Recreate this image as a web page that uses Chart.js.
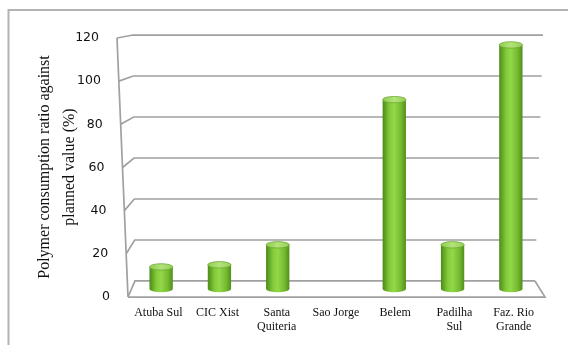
<!DOCTYPE html>
<html>
<head>
<meta charset="utf-8">
<script src="https://cdn.jsdelivr.net/npm/chart.js@4/dist/chart.umd.min.js"></script>
<style>
  html, body { margin: 0; padding: 0; background: #fff; }
</style>
</head>
<body>
<canvas id="myChart" width="568" height="345"></canvas>
<script>
// data
const categories = [['Atuba Sul'], ['CIC Xist'], ['Santa', 'Quiteria'], ['Sao Jorge'], ['Belem'], ['Padilha', 'Sul'], ['Faz. Rio', 'Grande']];
const ratioValues = [10.5, 11.5, 21, 0, 90, 21, 116];
const yTicks = [0, 20, 40, 60, 80, 100, 120];
const yTitle = ['Polymer consumption ratio against', 'planned value (%)'];

const GRID = '#a0a0a0';

////////////////////////////////////////////
// Project a value onto back / front plane //
////////////////////////////////////////////
const proj = (chart, v, plane) => {
    const a = chart.chartArea;
    const ym = chart.scales.y.getPixelForValue(v);
    const c = (a.top + a.bottom) / 2;
    const t = (ym - a.top) / (a.bottom - a.top);   // 0 at top, 1 at floor
    if (plane === 'back') {
        return {y: c + (ym - c) * 0.974 - 4.75, xl: a.left + 1 + 2 * t, xr: a.right + 3 - 8 * t};
    }
    return {y: c + (ym - c) * 1.026 + 4.75, xl: a.left - 15 + 11 * t, xr: a.right + 5};
};

const line = (ctx, pts) => {
    ctx.beginPath();
    ctx.moveTo(pts[0][0], pts[0][1]);
    for (let i = 1; i < pts.length; i++) ctx.lineTo(pts[i][0], pts[i][1]);
    ctx.stroke();
};

const frame3d = {
    id: 'frame3d',
    beforeDatasetsDraw(chart) {
        const ctx = chart.ctx;
        ctx.save();
        ctx.strokeStyle = GRID;
        ctx.lineWidth = 1.7;
        // gridlines: front-left edge -> back wall -> right
        yTicks.forEach((v) => {
            const f = proj(chart, v, 'front');
            const b = proj(chart, v, 'back');
            line(ctx, [[f.xl, f.y], [b.xl, b.y], [b.xr, b.y]]);
        });
        // left wall front edge
        const fTop = proj(chart, yTicks[yTicks.length - 1], 'front');
        const f0 = proj(chart, 0, 'front');
        const b0 = proj(chart, 0, 'back');
        line(ctx, [[fTop.xl, fTop.y], [f0.xl, f0.y]]);
        // floor front edge and right side
        line(ctx, [[f0.xl, f0.y], [f0.xr, f0.y], [b0.xr, b0.y]]);
        ctx.restore();
    }
};

const drawCylinder = (ctx, x, top, base, w) => {
    const rx = w / 2, ry = 3.2;
    const g = ctx.createLinearGradient(x - rx, 0, x + rx, 0);
    g.addColorStop(0, '#4b8a18');
    g.addColorStop(0.3, '#84cc3a');
    g.addColorStop(0.5, '#92d84a');
    g.addColorStop(0.8, '#74b82e');
    g.addColorStop(1, '#4f8e1c');
    ctx.fillStyle = g;
    ctx.beginPath();
    ctx.moveTo(x - rx, top);
    ctx.lineTo(x - rx, base);
    ctx.ellipse(x, base, rx, ry, 0, Math.PI, 0, true);
    ctx.lineTo(x + rx, top);
    ctx.closePath();
    ctx.fill();
    // top cap
    const gt = ctx.createLinearGradient(x - rx, 0, x + rx, 0);
    gt.addColorStop(0, '#8fcf4c');
    gt.addColorStop(0.5, '#b3e27a');
    gt.addColorStop(1, '#94d052');
    ctx.fillStyle = gt;
    ctx.beginPath();
    ctx.ellipse(x, top, rx, ry, 0, 0, Math.PI * 2);
    ctx.fill();
    ctx.strokeStyle = '#6ea83a';
    ctx.lineWidth = 0.8;
    ctx.stroke();
};

const cylinders = {
    id: 'cylinders',
    afterDatasetsDraw(chart) {
        const ctx = chart.ctx;
        const meta = chart.getDatasetMeta(0);
        ctx.save();
        meta.data.forEach((el, i) => {
            if (ratioValues[i] <= 0) return;
            const p = el.getProps(['x', 'y', 'base', 'width'], true);
            drawCylinder(ctx, p.x, p.y, p.base, p.width);
        });
        ctx.restore();
    }
};

const textLayer = {
    id: 'textLayer',
    afterDraw(chart) {
        const ctx = chart.ctx;
        const a = chart.chartArea;
        ctx.save();
        // outer border (top and left visible)
        ctx.strokeStyle = '#b4b4b4';
        ctx.lineWidth = 2;
        line(ctx, [[568, 10], [8.5, 10], [8.5, 345]]);

        // y tick labels
        ctx.fillStyle = '#111';
        ctx.font = '12.5px "DejaVu Sans"';
        ctx.textAlign = 'right';
        ctx.textBaseline = 'middle';
        yTicks.forEach((v) => {
            const f = proj(chart, v, 'front');
            ctx.fillText(String(v), f.xl - 18, f.y);
        });

        // category labels
        const f0 = proj(chart, 0, 'front');
        const cx = (a.left + a.right) / 2;
        ctx.font = '12px "Liberation Serif"';
        ctx.textAlign = 'center';
        categories.forEach((lab, i) => {
            const xm = chart.scales.x.getPixelForValue(i);
            const x = cx + (xm - cx) * 1.016;
            lab.forEach((s, j) => ctx.fillText(s, x, f0.y + 15.5 + j * 14));
        });

        // y axis title
        ctx.font = '16px "Liberation Serif"';
        ctx.translate(0, 167);
        ctx.rotate(-Math.PI / 2);
        ctx.fillText(yTitle[0], 0, 45);
        ctx.fillText(yTitle[1], 0, 70);
        ctx.restore();
    }
};

new Chart('myChart', {
    type: 'bar',
    data: {
        labels: categories.map((c) => c.join(' ')),
        datasets: [{
            data: ratioValues,
            backgroundColor: 'rgba(0,0,0,0)',
            borderWidth: 0,
            categoryPercentage: 1.0,
            barPercentage: 0.4
        }]
    },
    options: {
        responsive: false,
        animation: false,
        devicePixelRatio: 1,
        layout: {padding: {left: 132, right: 28, top: 36.5, bottom: 56}},
        plugins: {legend: {display: false}, tooltip: {enabled: false}},
        scales: {
            x: {display: false},
            y: {display: false, min: 0, max: 120}
        }
    },
    plugins: [frame3d, cylinders, textLayer]
});
</script>
</body>
</html>
